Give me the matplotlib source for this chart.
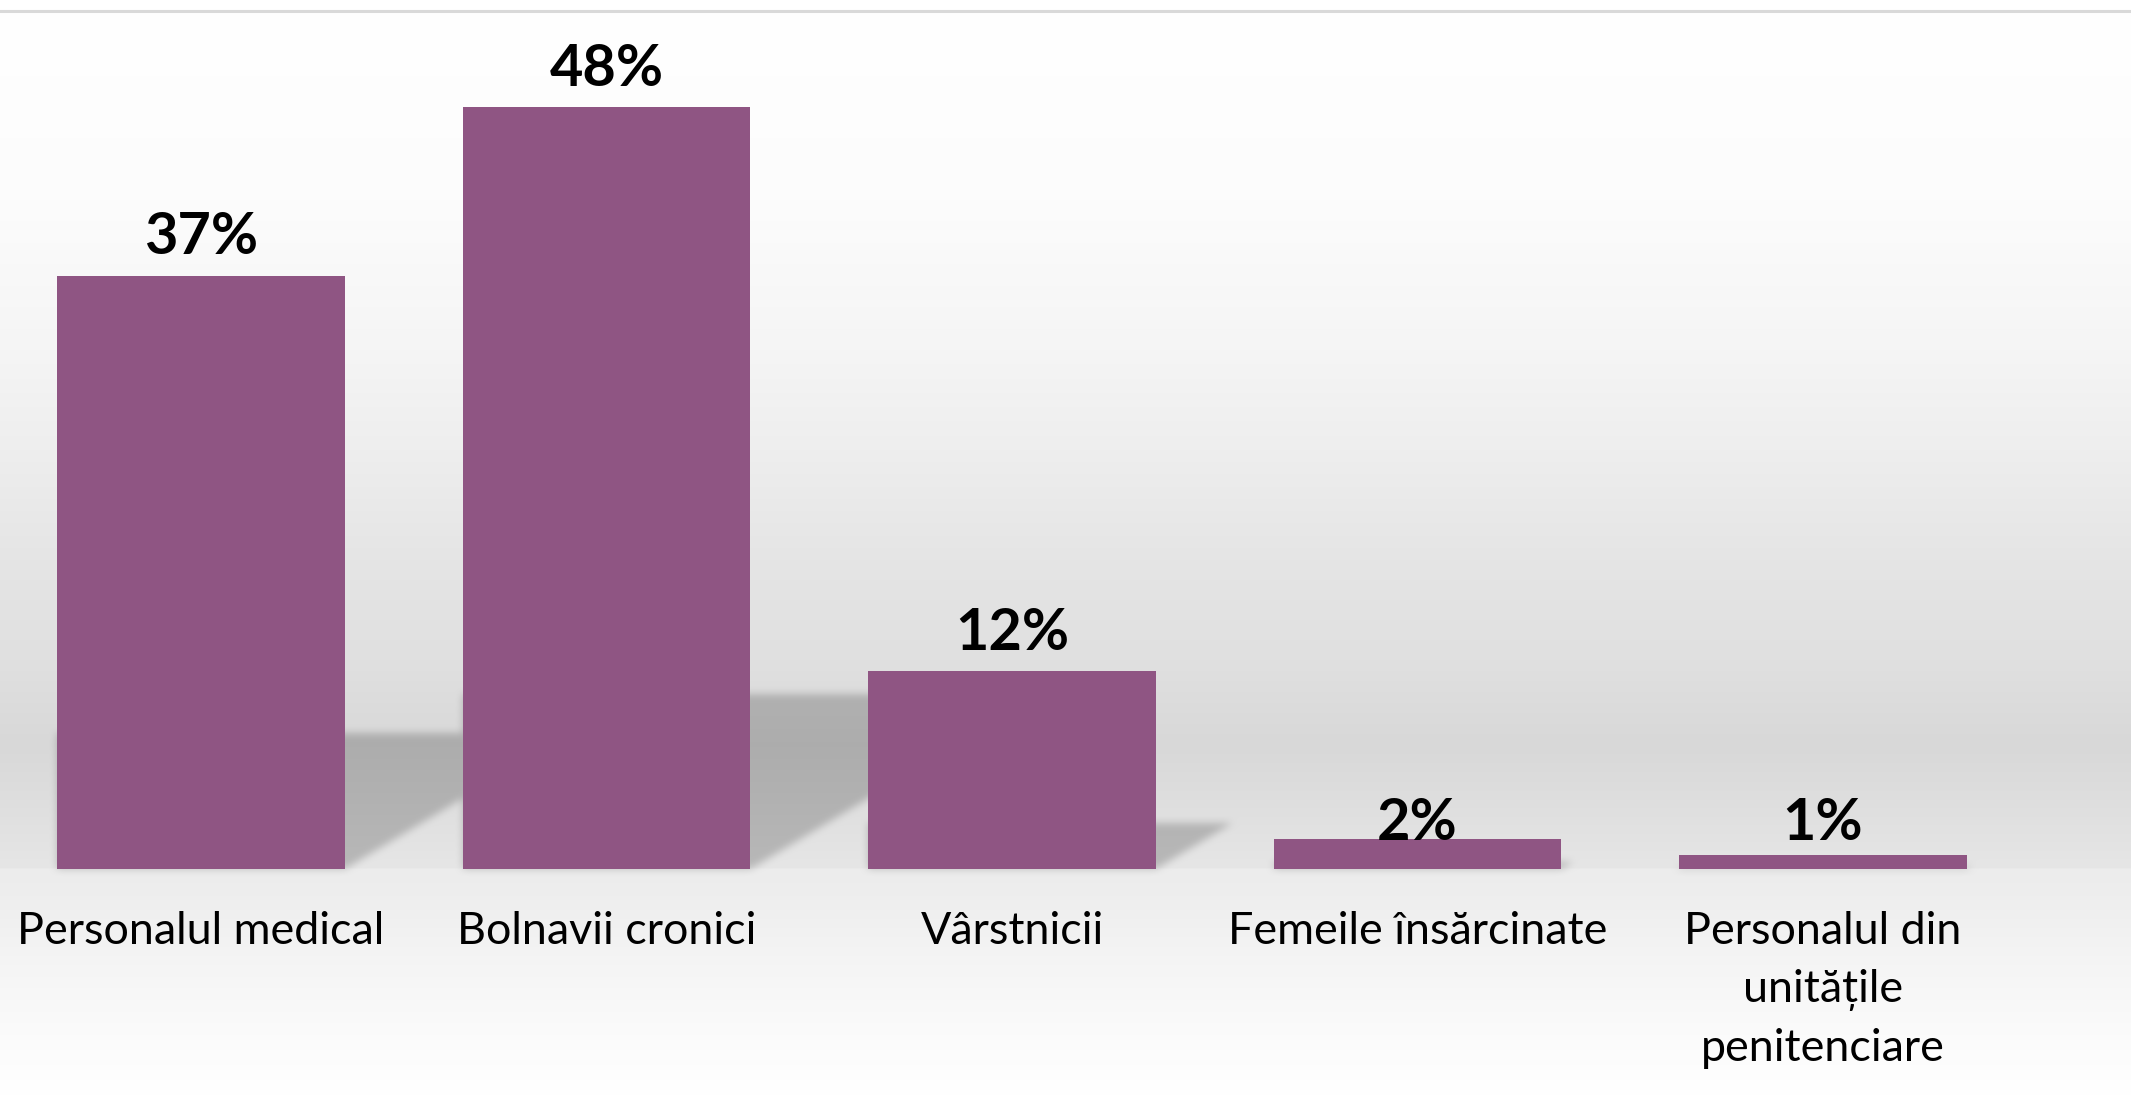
import numpy as np
import matplotlib
matplotlib.use("Agg")
import matplotlib.pyplot as plt
from matplotlib.path import Path

plt.rcParams['font.family'] = ['Lato', 'DejaVu Sans']

categories = ["Personalul medical", "Bolnavii cronici", "Vârstnicii",
              "Femeile însărcinate", "Personalul din\nunitățile\npenitenciare"]
values = [37.3, 47.9, 12.45, 1.9, 0.9]

bar_color = "#8f5583"
W, H = 2131, 1095

fig = plt.figure(figsize=(W / 100, H / 100), dpi=100)

# background axes (pixel coords, top-down)
bg = fig.add_axes([0, 0, 1, 1])
bg.set_xlim(0, W)
bg.set_ylim(H, 0)
bg.axis("off")

# main chart axes
ax = fig.add_axes([-1.75 / W, 226 / H, 2027.5 / W, 50 * 15.9 / H])
ax.set_xlim(-0.5, 4.5)
ax.set_ylim(0, 50)
ax.patch.set_alpha(0)
for s in ax.spines.values():
    s.set_visible(False)
ax.set_xticks([])
ax.set_yticks([])

x = np.arange(len(values))
width = 0.71
ax.bar(x, values, width=width, color=bar_color, zorder=3)

# background gradient (wall + floor)
stops_y = [0, 14, 200, 350, 450, 560, 660, 745, 800, 868, 869, 910, 965, 1035, 1095]
stops_g = [255, 255, 252, 245, 238, 229, 224, 216, 222, 230, 236, 239, 245, 251, 255]
rows = np.arange(H) + 0.5
gray = np.interp(rows, stops_y, stops_g) / 255.0
bgimg = np.repeat(gray[:, None], W, axis=1)

# cast shadows behind the bars
alpha = np.zeros((H, W))
yy, xx = np.mgrid[0:H, 0:W]
for xi, v in zip(x, values):
    L, R = xi - width / 2, xi + width / 2
    p0 = ax.transData.transform([(L, 0), (R, 0), (L, v)])
    h_px = p0[2, 1] - p0[0, 1]
    m = 0.23 * h_px
    s = 0.383 * h_px
    Lp, Rp = p0[0, 0], p0[1, 0]
    base = H - p0[0, 1]
    path = Path([(Lp, base), (Rp, base), (Rp + s, base - m), (Lp, base - m)])
    x0, x1 = int(Lp) - 5, int(Rp + s) + 5
    y0, y1 = int(base - m) - 5, int(base) + 5
    sub = np.column_stack([xx[y0:y1, x0:x1].ravel() + 0.5, yy[y0:y1, x0:x1].ravel() + 0.5])
    inside = path.contains_points(sub).reshape(y1 - y0, x1 - x0)
    alpha[y0:y1, x0:x1] = np.maximum(alpha[y0:y1, x0:x1], inside.astype(float))


def box_blur(a, r):
    k = 2 * r + 1
    p = np.pad(a, ((r, r), (0, 0)), mode="edge")
    c = np.cumsum(np.vstack([np.zeros((1, p.shape[1])), p]), axis=0)
    a = (c[k:] - c[:-k]) / k
    p = np.pad(a, ((0, 0), (r, r)), mode="edge")
    c = np.cumsum(np.hstack([np.zeros((p.shape[0], 1)), p]), axis=1)
    return (c[:, k:] - c[:, :-k]) / k


alpha = box_blur(box_blur(alpha, 4), 4)
bgimg = bgimg * (1 - 0.2 * alpha)
bg.imshow(np.dstack([bgimg] * 3), extent=(0, W, H, 0), aspect="auto",
          interpolation="nearest", zorder=0)
bg.axhline(10.5, color="#d9d9d9", lw=2.2, zorder=1)

# value labels
for xi, v in zip(x, values):
    ly = v + 1.35 if v > 5 else 1.8
    ax.text(xi, ly, f"{v:.0f}%", ha="center", va="baseline",
            fontsize=41.5, fontweight="bold", color="black", zorder=4)

# category labels (first baseline fixed, extra lines go down)
line_step = 3.68
for xi, c in zip(x, categories):
    n = c.count("\n")
    ax.text(xi, -4.7 - n * line_step, c, ha="center", va="baseline",
            fontsize=32.3, color="black", linespacing=1.51, clip_on=False)

fig.savefig("out.png", dpi=100)
